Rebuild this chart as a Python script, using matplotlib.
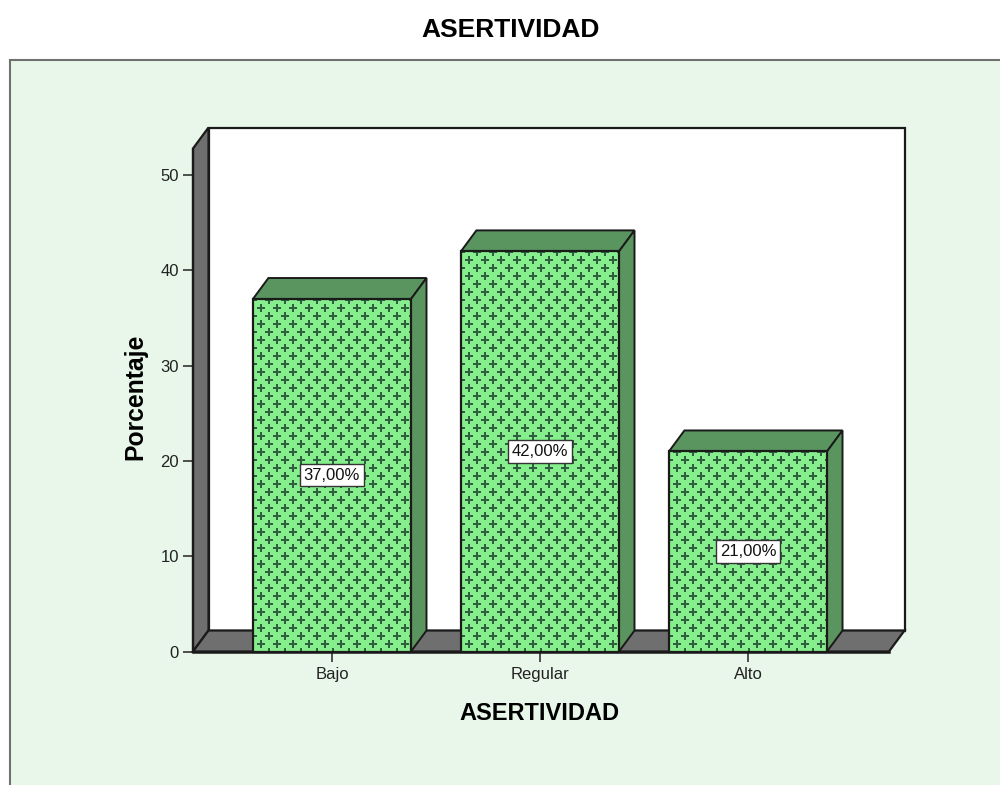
import numpy as np
import matplotlib
matplotlib.use('Agg')
import matplotlib.pyplot as plt
from matplotlib.patches import Polygon, Rectangle

categories = ['Bajo', 'Regular', 'Alto']
percentages = [37.0, 42.0, 21.0]
y_ticks = [0, 10, 20, 30, 40, 50]

plt.rcParams['font.family'] = ['Liberation Sans', 'DejaVu Sans']

PANEL = '#e8f7ea'
WALL = '#6f6f6f'
BAR_FACE = '#86ee8c'
BAR_DARK = '#5a9560'
PLUS = '#2f5f3f'
EDGE = '#1a1a1a'

fig = plt.figure(figsize=(10, 7.85), dpi=100, facecolor='white')

# panel runs off the right and bottom of the picture, zorder keeps it behind the axes
fig.add_artist(Rectangle((10 / 1000, -0.05), 1.1, 1.05 - 60 / 785, transform=fig.transFigure,
                         facecolor=PANEL, edgecolor='#707070', linewidth=1.5, zorder=-1))
fig.text(0.511, 1 - 30 / 785, 'ASERTIVIDAD', ha='center', va='center', fontsize=19, fontweight='bold')

ax = fig.add_axes([193 / 1000, 1 - 651.5 / 785, 696 / 1000, 503 / 785])
ax.patch.set_visible(False)
ax.set_xlim(-0.668, 2.678)
ax.set_ylim(0, 52.8)

x0, x1 = ax.get_xlim()
y0, y1 = ax.get_ylim()
depth_x = 15.5 / 208
depth_y = 21 / 9.53
bar_width = 0.76

# back wall, side wall, floor
ax.add_patch(Rectangle((x0 + depth_x, y0 + depth_y), x1 - x0, y1 - y0, facecolor='white',
                       edgecolor=EDGE, linewidth=1.6, clip_on=False, zorder=1))
ax.add_patch(Polygon([(x0, y0), (x0 + depth_x, y0 + depth_y), (x0 + depth_x, y1 + depth_y), (x0, y1)],
                     facecolor=WALL, edgecolor=EDGE, linewidth=1.6, clip_on=False, zorder=2))
ax.add_patch(Polygon([(x0, y0), (x1, y0), (x1 + depth_x, y0 + depth_y), (x0 + depth_x, y0 + depth_y)],
                     facecolor=WALL, edgecolor=EDGE, linewidth=1.6, clip_on=False, zorder=2))

for i, value in enumerate(percentages):
    left = i - bar_width / 2
    right = i + bar_width / 2
    ax.add_patch(Polygon([(left, value), (right, value), (right + depth_x, value + depth_y),
                          (left + depth_x, value + depth_y)],
                         facecolor=BAR_DARK, edgecolor=EDGE, linewidth=1.4, clip_on=False, zorder=3))
    ax.add_patch(Polygon([(right, 0), (right + depth_x, depth_y), (right + depth_x, value + depth_y),
                          (right, value)],
                         facecolor=BAR_DARK, edgecolor=EDGE, linewidth=1.4, clip_on=False, zorder=3))
    front = Rectangle((left, 0), bar_width, value, facecolor=BAR_FACE, edgecolor='none', zorder=4)
    ax.add_patch(front)

    # staggered plus pattern, 16 px across and 8 px between rows
    rows = np.arange(0, value + 1, 8 / 9.53)
    px, py = [], []
    for r, row_y in enumerate(rows):
        cols = np.arange(left - 16 / 208, right + 16 / 208, 16 / 208) + (r % 2) * 8 / 208
        px.extend(cols)
        py.extend([row_y] * len(cols))
    dots = ax.scatter(px, py, marker='P', s=34, color=PLUS, linewidths=0, zorder=5)
    dots.set_clip_path(front)

    ax.add_patch(Rectangle((left, 0), bar_width, value, facecolor='none', edgecolor=EDGE,
                           linewidth=1.6, clip_on=False, zorder=6))
    ax.text(i, value / 2, f'{value:.2f}%'.replace('.', ','), ha='center', va='center', fontsize=12,
            color='#111111', zorder=7,
            bbox=dict(boxstyle='square,pad=0.22', facecolor='white', edgecolor='#333333', linewidth=1))

for spine in ax.spines.values():
    spine.set_visible(False)

ax.set_xticks(range(len(categories)))
ax.set_xticklabels(categories)
ax.set_yticks(y_ticks)
ax.tick_params(axis='both', length=7, width=1.2, color='#333333', labelsize=12, labelcolor='#222222', pad=3)
ax.tick_params(axis='x', pad=4)
ax.plot([x0, x1], [0, 0], color=EDGE, linewidth=1.8, clip_on=False, zorder=6)
ax.plot([x0, x0], [0, y1], color=EDGE, linewidth=1.6, clip_on=False, zorder=6)

ax.set_xlabel('ASERTIVIDAD', fontsize=17, fontweight='bold')
ax.xaxis.set_label_coords(0.498, -0.101)
ax.set_ylabel('Porcentaje', fontsize=17.8, fontweight='bold')
ax.yaxis.set_label_coords(-0.066, 0.506)

plt.savefig('out.png', dpi=100)
plt.close()
